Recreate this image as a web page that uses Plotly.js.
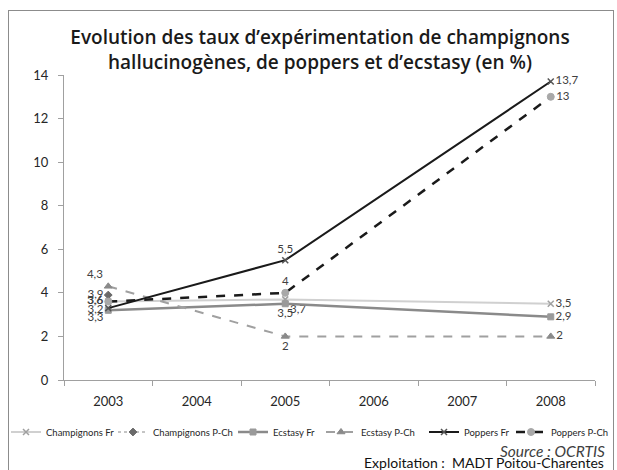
<!DOCTYPE html>
<html><head><meta charset="utf-8">
<script src="https://cdn.plot.ly/plotly-3.0.1.min.js"></script>
<style>
html,body{margin:0;padding:0;background:#fff;}
#wrap{position:relative;width:617px;height:470px;overflow:hidden;}
#chart{width:617px;height:470px;}
#frame{position:absolute;left:8px;top:10px;width:604px;height:480px;border:1px solid #8c8c8c;pointer-events:none;}
</style></head>
<body><div id="wrap"><div id="chart"></div><div id="frame"></div></div>
<script>
const years = ['2003','2004','2005','2006','2007','2008'];
const xPts = ['2003','2005','2008'];
const champFr = [3.6, 3.7, 3.5];
const champPCh = [3.9, null, null];
const ecstFr = [3.2, 3.5, 2.9];
const ecstPCh = [4.3, 2, 2];
const popFr = [3.3, 5.5, 13.7];
const popPCh = [3.6, 4, 13];
const names = ['Champignons Fr','Champignons P-Ch','Ecstasy Fr','Ecstasy P-Ch','Poppers Fr','Poppers P-Ch'];

const lbl = arr => arr.map(v => v == null ? '' : String(v).replace('.', ','));
const FONT = 'Lato, "Open Sans", sans-serif';
const tf = {family:FONT, size:11.5, color:'#404040'};

function tr(i, y, color, dash, width, symbol, msize, mcolor, pos){
  return {x:xPts, y:y, name:names[i], type:'scatter', mode:'lines+markers+text',
    legend: i === 0 ? 'legend' : 'legend' + (i + 1),
    text:lbl(y), textposition:pos, textfont:tf, connectgaps:false,
    line:{color:color, dash:dash, width:width},
    marker:{symbol:symbol, size:msize, color:mcolor, line:{color:mcolor,width:1}}, cliponaxis:false};
}
const data = [
  tr(0, champFr, '#d0d0d0', 'solid', 2, 'x-thin', 6, '#a0a0a0', ['middle left','bottom right','middle right']),
  tr(1, champPCh, '#8a8a8a', 'dot', 1, 'diamond', 6, '#6a6a6a', ['middle left','middle left','middle left']),
  tr(2, ecstFr, '#8a8a8a', 'solid', 2.5, 'square', 6, '#9a9a9a', ['middle left','bottom center','middle right']),
  tr(3, ecstPCh, '#a0a0a0', 'dash', 2, 'triangle-up', 7, '#8a8a8a', ['top left','bottom center','middle right']),
  tr(4, popFr, '#1a1a1a', 'solid', 2, 'x-thin', 6, '#555555', ['bottom left','top center','middle right']),
  tr(5, popPCh, '#1a1a1a', 'dash', 2.5, 'circle', 7, '#a8a8a8', ['middle left','top center','middle right'])
];
data[0].marker.line.width = 1.5;
data[4].marker.line.width = 1.5;

// plot area in pixels: x 64..595, y 75..380
const px = v => (v - 64) / 531;
const legTextStarts = [48, 155, 275, 363, 466, 553];
function leg(i){
  return {orientation:'h', xref:'container', yref:'container',
    x:(legTextStarts[i] - 42) / 617, xanchor:'left', y:1 - 432/470, yanchor:'middle',
    font:{size:9.5, color:'#262626', family:FONT}, itemwidth:30, bgcolor:'rgba(0,0,0,0)', borderwidth:0};
}

const layout = {
  width:617, height:470,
  margin:{l:64, r:22, t:75, b:90},
  paper_bgcolor:'#fff', plot_bgcolor:'#fff',
  font:{family:FONT, color:'#262626'},
  title:{text:'Evolution des taux d\u2019expérimentation de champignons<br>hallucinogènes, de poppers et d\u2019ecstasy (en %)',
    font:{size:19, color:'#1a1a1a', family:'"Open Sans", Lato, sans-serif', weight:600},
    xref:'paper', x:px(320), xanchor:'center', yref:'container', y:1 - 44/470, yanchor:'middle'},
  xaxis:{type:'category', categoryorder:'array', categoryarray:years, range:[-0.5,5.5],
    tickson:'boundaries', ticks:'outside', ticklen:5, tickcolor:'#a0a0a0', ticklabelstandoff:9,
    showline:true, linecolor:'#a0a0a0', linewidth:1, showgrid:false, zeroline:false, automargin:false,
    tickfont:{size:13, color:'#262626'}},
  yaxis:{range:[0,14], dtick:2, ticks:'outside', ticklen:5, tickcolor:'#a0a0a0', ticklabelstandoff:7,
    showline:true, linecolor:'#a0a0a0', linewidth:1, showgrid:false, zeroline:false, automargin:false,
    tickfont:{size:13, color:'#262626'}},
  showlegend:true,
  legend:leg(0), legend2:leg(1), legend3:leg(2), legend4:leg(3), legend5:leg(4), legend6:leg(5),
  annotations:[
    {text:'<i>Source : OCRTIS</i>', xref:'paper', yref:'paper', x:px(607), xanchor:'right', y:(380-451)/305, yanchor:'middle', showarrow:false,
     font:{size:15.5, color:'#404040'}},
    {text:'Exploitation :  MADT Poitou-Charentes', xref:'paper', yref:'paper', x:px(606), xanchor:'right', y:(380-462)/305, yanchor:'middle', showarrow:false,
     font:{size:14, color:'#111'}}
  ]
};
Plotly.newPlot('chart', data, layout, {displayModeBar:false, staticPlot:true});
</script></body></html>
